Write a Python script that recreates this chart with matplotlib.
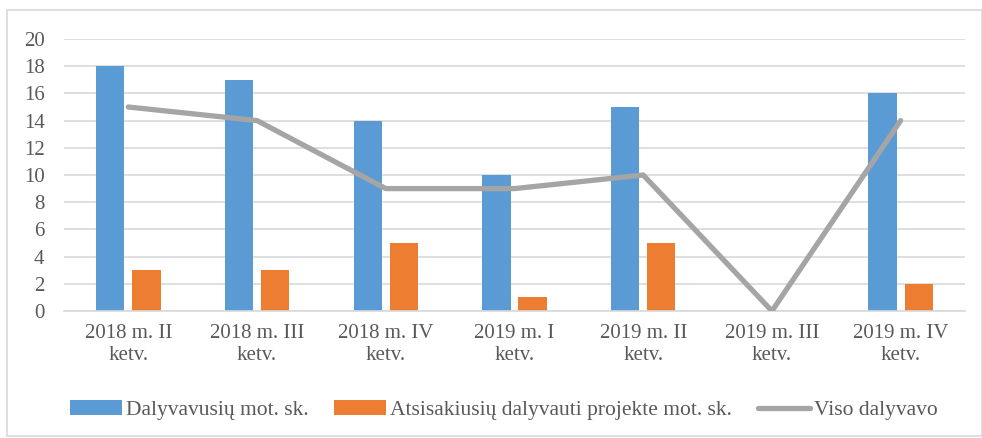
import matplotlib.pyplot as plt
import numpy as np
from matplotlib.patches import Rectangle

plt.rcParams['font.family'] = ['Liberation Serif', 'DejaVu Serif']

quarters = ["2018 m. II\nketv.", "2018 m. III\nketv.", "2018 m. IV\nketv.",
            "2019 m. I\nketv.", "2019 m. II\nketv.", "2019 m. III\nketv.",
            "2019 m. IV\nketv."]
dalyvavusiu = [18, 17, 14, 10, 15, 0, 16]
atsisakiusiu = [3, 3, 5, 1, 5, 0, 2]
viso = [15, 14, 9, 9, 10, 0, 14]

txt = "#595959"
fig = plt.figure(figsize=(9.82, 4.38), dpi=100)
ax = fig.add_axes([64/982, 1-311/438, (965-64)/982, (311-39)/438])

x = np.arange(len(quarters))
w = 0.22
b1 = ax.bar(x - 0.14, dalyvavusiu, w, color="#5b9bd5", label="Dalyvavusių mot. sk.", zorder=2)
b2 = ax.bar(x + 0.14, atsisakiusiu, w, color="#ed7d31", label="Atsisakiusių dalyvauti projekte mot. sk.", zorder=2)
l1, = ax.plot(x, viso, color="#a5a5a5", lw=3.8, label="Viso dalyvavo", zorder=3, solid_capstyle="round")

ax.set_xlim(-0.5, len(quarters) - 0.5)
ax.set_ylim(0, 20)
ax.set_yticks(range(0, 21, 2))
ax.set_xticks(x)
ax.set_xticklabels(quarters, linespacing=1.25)
ax.tick_params(axis="both", length=0, labelsize=15, colors=txt)
ax.tick_params(axis="y", pad=14)
ax.tick_params(axis="x", pad=9)
ax.grid(axis="y", color="#d9d9d9", lw=1.2, zorder=0)
for s in ["top", "right", "left"]:
    ax.spines[s].set_visible(False)
ax.spines["bottom"].set_color("#d9d9d9")
ax.spines["bottom"].set_linewidth(1.2)

leg = fig.legend(handles=[b1, b2, l1], loc="center", bbox_to_anchor=(0.513, 1-410/438), ncol=3,
                 frameon=False, fontsize=15.5, handlelength=2.4, handletextpad=0.2, columnspacing=1.2)
for t in leg.get_texts():
    t.set_color(txt)

fig.patches.append(Rectangle((7/982, 2/438), 975/982, 426/438, transform=fig.transFigure,
                             fill=False, edgecolor="#d9d9d9", lw=1.2))

fig.savefig("out.png", dpi=100)
